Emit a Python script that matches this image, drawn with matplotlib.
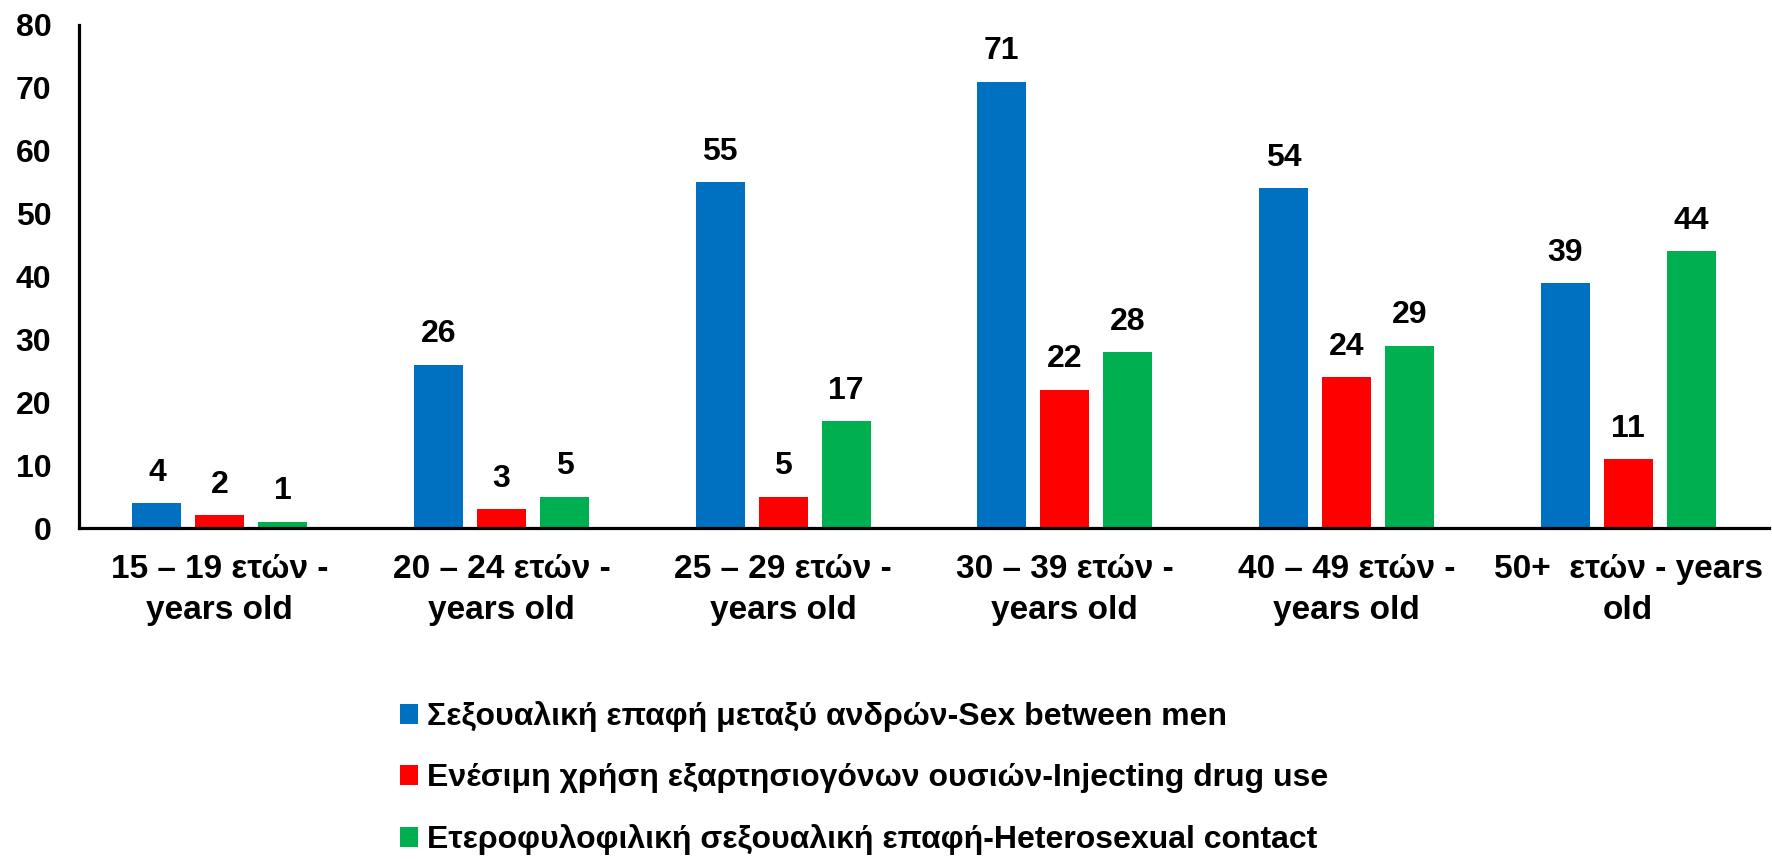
import numpy as np
import matplotlib.pyplot as plt

plt.rcParams['font.family'] = ['Liberation Sans', 'DejaVu Sans']
plt.rcParams['font.weight'] = 'bold'

age_groups = ["15 – 19 ετών -\nyears old", "20 – 24 ετών -\nyears old",
              "25 – 29 ετών -\nyears old", "30 – 39 ετών -\nyears old",
              "40 – 49 ετών -\nyears old", "50+  ετών - years\nold"]
msm = [4, 26, 55, 71, 54, 39]
idu = [2, 3, 5, 22, 24, 11]
hetero = [1, 5, 17, 28, 29, 44]

series_names = ["Σεξουαλική επαφή μεταξύ ανδρών-Sex between men",
                "Ενέσιμη χρήση εξαρτησιογόνων ουσιών-Injecting drug use",
                "Ετεροφυλοφιλική σεξουαλική επαφή-Heterosexual contact"]
colors = ['#0070C0', '#FF0000', '#00B050']

fig = plt.figure(figsize=(17.72, 8.59), dpi=100)
ax = fig.add_axes([0.0446, 0.3853, 0.9537, 0.5856])

x = np.arange(len(age_groups))
width = 0.174
step = 0.2236

handles = []
for i, (vals, col, name) in enumerate(zip([msm, idu, hetero], colors, series_names)):
    bars = ax.bar(x + (i - 1) * step, vals, width, color=col, label=name)
    handles.append(bars)
    for b, v in zip(bars, vals):
        ax.annotate(str(v), (b.get_x() + b.get_width() / 2, v),
                    xytext=(0, 11), textcoords='offset points',
                    ha='center', va='bottom', fontsize=23, fontweight='bold')

ax.set_xlim(-0.5, 5.5)
ax.set_ylim(0, 80)
ax.set_yticks(range(0, 81, 10))
ax.set_xticks(x)
ax.set_xticklabels(age_groups, fontsize=24, fontweight='bold', linespacing=1.42)
ax.tick_params(axis='y', length=0, pad=20, labelsize=23)
ax.tick_params(axis='x', length=0, pad=19)

for s in ['top', 'right']:
    ax.spines[s].set_visible(False)
for s in ['left', 'bottom']:
    ax.spines[s].set_linewidth(2.3)
    ax.spines[s].set_color('black')

leg = fig.legend(handles=handles, loc='upper left', bbox_to_anchor=(0.2257, 0.1835),
                 frameon=False, fontsize=23, handlelength=0.55, handleheight=0.55,
                 handletextpad=0.3, labelspacing=0.97, borderaxespad=0,
                 borderpad=0)

plt.savefig("out.png", dpi=100)
